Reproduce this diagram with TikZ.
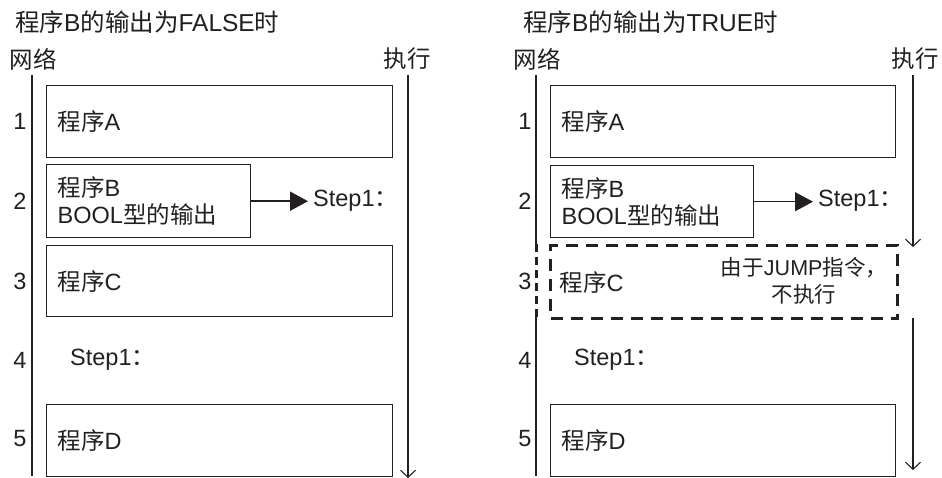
\documentclass[tikz,border=0pt]{standalone}
\usepackage{fontspec}
\setmainfont{Liberation Sans}
\newfontfamily\cjk{Noto Sans CJK SC}
\usetikzlibrary{arrows.meta}
\newcommand\zh[1]{{\cjk #1}}
\definecolor{ink}{HTML}{231F20}
\begin{document}
\begin{tikzpicture}[x=1pt,y=-1pt,
  every node/.style={font=\fontsize{23.5}{27}\selectfont, text=ink, inner sep=0pt},
  prog/.style={draw=ink, line width=1.4pt, anchor=north west, inner xsep=11pt, align=left},
  skipped/.style={draw=ink, line width=3.2pt, dash pattern=on 12pt off 8pt, anchor=north west, inner xsep=9pt, align=left},
  netline/.style={draw=ink, line width=1.4pt},
  netdash/.style={draw=ink, line width=3pt, dash pattern=on 8pt off 5pt},
  execline/.style={draw=ink, line width=1.1pt, -{Straight Barb[length=7pt,width=15pt,line width=1.1pt]}},
  jumpthick/.style={draw=ink, line width=1.8pt, -{Triangle[length=18pt,width=19pt]}, shorten >=5pt},
  jumpthin/.style={draw=ink, line width=1.1pt, -{Triangle[length=18pt,width=19pt]}, shorten >=5pt},
  num/.style={anchor=center},
  small/.style={font=\fontsize{21.5}{27}\selectfont, align=center}
]
\useasboundingbox (0,0) rectangle (942,478);

% ---------- left panel: FALSE ----------
\node[anchor=west, font=\fontsize{24.5}{27}\selectfont] (ltitle) at (15,22) {\zh{程序}B\zh{的输出为}FALSE\zh{时}};
\node (lnet) at (33,59) {\zh{网络}};
\node (lexe) at (407,59) {\zh{执行}};

\coordinate (lnTop) at (32,75);
\coordinate (lnBot) at (32,476);
\draw[netline] (lnTop) -- (lnBot);
\coordinate (leTop) at (408,75);
\coordinate (leBot) at (408,478);
\draw[execline] (leTop) -- (leBot);

\node[prog, text width=324pt, minimum height=72pt] (lA) at (46,85) {\zh{程序}A};
\node[prog, text width=182pt, minimum height=73pt] (lB) at (46,164) {\zh{程序}B\\BOOL\zh{型的输出}};
\node[prog, text width=324pt, minimum height=71pt] (lC) at (46,245) {\zh{程序}C};
\node[prog, text width=324pt, minimum height=72pt] (lD) at (46,404) {\zh{程序}D};

\node[anchor=west] (lstep) at (313,201) {Step1\zh{：}};
\draw[jumpthick] (lB.east) -- (lB.east -| lstep.west);
\node[anchor=west] (lstep4) at (70,360) {Step1\zh{：}};

\node[num] (ln1) at (20,121) {1};
\node[num] (ln2) at (20,201) {2};
\node[num] (ln3) at (20,281) {3};
\node[num] (ln4) at (20,360) {4};
\node[num] (ln5) at (20,439) {5};

% ---------- right panel: TRUE ----------
\node[anchor=west, font=\fontsize{24.5}{27}\selectfont] (rtitle) at (523,22) {\zh{程序}B\zh{的输出为}TRUE\zh{时}};
\node (rnet) at (537,59) {\zh{网络}};
\node (rexe) at (915,59) {\zh{执行}};

\node[prog, text width=323pt, minimum height=72pt] (rA) at (550,85) {\zh{程序}A};
\node[prog, text width=181pt, minimum height=72pt] (rB) at (550,165) {\zh{程序}B\\BOOL\zh{型的输出}};
\node[skipped, text width=329pt, minimum height=73pt] (rC) at (549,244) {\zh{程序}C};
\node[small] (rnote) at (804,281) {\zh{由于}JUMP\zh{指令，}\\\zh{不执行}};
\node[prog, text width=323pt, minimum height=72pt] (rD) at (550,404) {\zh{程序}D};

\coordinate (rnTop) at (536,75);
\coordinate (rnA) at (536,244);
\coordinate (rnB) at (536,317);
\coordinate (rnBot) at (536,476);
\draw[netline] (rnTop) -- (rnA);
\draw[netdash] (rnA) -- (rnB);
\draw[netline] (rnB) -- (rnBot);

\coordinate (reTop) at (913,75);
\coordinate (reMid1) at (913,247);
\coordinate (reMid2) at (913,318);
\coordinate (reBot) at (913,470);
\draw[execline] (reTop) -- (reMid1);
\draw[execline] (reMid2) -- (reBot);

\node[anchor=west] (rstep) at (818,201) {Step1\zh{：}};
\draw[jumpthin] (rB.east) -- (rB.east -| rstep.west);
\node[anchor=west] (rstep4) at (574,360) {Step1\zh{：}};

\node[num] (rn1) at (525,121) {1};
\node[num] (rn2) at (525,201) {2};
\node[num] (rn3) at (525,281) {3};
\node[num] (rn4) at (525,360) {4};
\node[num] (rn5) at (525,439) {5};
\end{tikzpicture}
\end{document}
